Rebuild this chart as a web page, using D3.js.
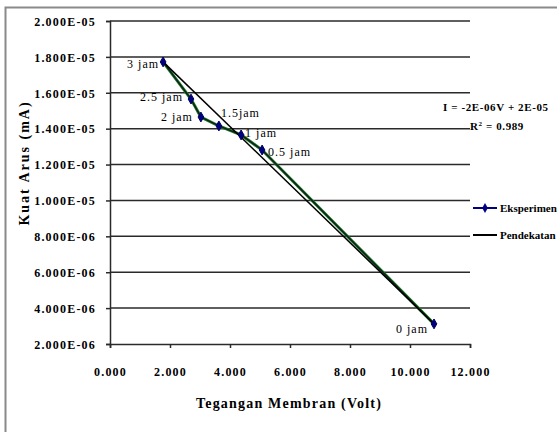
<!DOCTYPE html>
<html>
<head>
<meta charset="utf-8">
<script src="https://cdn.jsdelivr.net/npm/d3@7/dist/d3.min.js"></script>
<style>
  body { margin: 0; background: #fff; }
  svg { display: block; }
  svg text { font-family: "Liberation Serif", "Tinos", "DejaVu Serif", serif !important; fill: #000; }
</style>
</head>
<body>
<div class="panel"></div>
<script>
// Data

const jamLabels = ["3 jam", "2.5 jam", "2 jam", "1.5jam", "1 jam", "0.5 jam", "0 jam"];
const tegangan = [1.77, 2.70, 3.03, 3.63, 4.37, 5.07, 10.80];
const arus = [1.772e-5, 1.565e-5, 1.465e-5, 1.415e-5, 1.365e-5, 1.281e-5, 3.12e-6];

const pendekatanV = [1.77, 10.80];
const pendekatanI = [1.772e-5, 3.12e-6];

const xTicks = [0, 2, 4, 6, 8, 10, 12];
const yTicks = [2e-6, 4e-6, 6e-6, 8e-6, 1e-5, 1.2e-5, 1.4e-5, 1.6e-5, 1.8e-5, 2e-5];

const seriesNames = ["Eksperimen", "Pendekatan"];
const equationText = "I = -2E-06V + 2E-05";
const r2Text = "0.989";

// label placement: [dx, dy, anchor]
const labelPlace = [
    [-4, 2, "end"], [-8, -2, "end"], [-8, 0, "end"],
    [2, -13, "start"], [4, -2, "start"], [6, 2, "start"], [-6, 5, "end"]
];

// Render chart

const params = { width: 557, height: 432 };

const svg = d3.select(".panel").append("svg")
    .attr("width", params.width)
    .attr("height", params.height)
    .attr("viewBox", [0, 0, params.width, params.height]);

svg.append("rect")
    .attr("x", 5.5).attr("y", 7.5)
    .attr("width", 600).attr("height", 500)
    .attr("fill", "#fff")
    .attr("stroke", "#8a8a8a")
    .attr("stroke-width", 2);

const x = d3.scaleLinear().domain([0, 12]).range([110, 470]);
const y = d3.scaleLinear().domain([2e-6, 2e-5]).range([344, 21]);

const fmtE = d => {
    const [m, e] = d.toExponential(3).split("e");
    const n = +e;
    return m + "E" + (n < 0 ? "-" : "+") + String(Math.abs(n)).padStart(2, "0");
};

// gridlines
svg.append("g")
    .selectAll("line")
    .data(yTicks.slice(1))
    .enter().append("line")
    .attr("x1", x(0)).attr("x2", x(12))
    .attr("y1", d => y(d)).attr("y2", d => y(d))
    .attr("stroke", "#2a2a2a")
    .attr("stroke-width", 1.5);

// axes
const yAxis = svg.append("g")
    .attr("transform", `translate(${x(0)},0)`)
    .call(d3.axisLeft(y).tickValues(yTicks).tickFormat(fmtE).tickSize(4).tickPadding(10));

const xAxis = svg.append("g")
    .attr("transform", `translate(0,${y(2e-6)})`)
    .call(d3.axisBottom(x).tickValues(xTicks).tickFormat(d3.format(".3f")).tickSize(4).tickPadding(19));

[yAxis, xAxis].forEach(g => {
    g.attr("font-family", null);
    g.select(".domain").attr("stroke", "#2a2a2a").attr("stroke-width", 1.5);
    g.selectAll(".tick line").attr("stroke", "#2a2a2a").attr("stroke-width", 1.5);
    g.selectAll("text")
        .attr("font-size", 12)
        .attr("font-weight", "bold")
        .attr("letter-spacing", 1.2);
});
yAxis.selectAll("text").attr("dy", "0.36em");

// axis titles
svg.append("text")
    .attr("x", 289).attr("y", 408)
    .attr("text-anchor", "middle")
    .attr("font-size", 14).attr("font-weight", "bold")
    .attr("letter-spacing", 1.2)
    .text("Tegangan Membran (Volt)");

svg.append("text")
    .attr("transform", "translate(29,163) rotate(-90)")
    .attr("text-anchor", "middle")
    .attr("font-size", 14).attr("font-weight", "bold")
    .attr("letter-spacing", 2)
    .text("Kuat Arus (mA)");

// series
const pts = tegangan.map((v, i) => [v, arus[i]]);
const line = d3.line().x(d => x(d[0])).y(d => y(d[1]));

// experiment line: dark stroke with green edge, as in the picture
svg.append("path")
    .datum(pts)
    .attr("fill", "none")
    .attr("stroke", "#1f7a1f")
    .attr("stroke-width", 3)
    .attr("d", line);

svg.append("path")
    .datum(pts)
    .attr("fill", "none")
    .attr("stroke", "#0c1f24")
    .attr("stroke-width", 1.4)
    .attr("d", line);

svg.append("path")
    .datum(pendekatanV.map((v, i) => [v, pendekatanI[i]]))
    .attr("fill", "none")
    .attr("stroke", "#000")
    .attr("stroke-width", 1.5)
    .attr("d", line);

const diamond = d3.symbol().type(d3.symbolDiamond).size(28);

svg.append("g")
    .selectAll("path")
    .data(pts)
    .enter().append("path")
    .attr("transform", d => `translate(${x(d[0])},${y(d[1])})`)
    .attr("d", diamond)
    .attr("fill", "#000080")
    .attr("stroke", "#000060")
    .attr("stroke-width", 1);

// data labels
svg.append("g")
    .selectAll("text")
    .data(pts)
    .enter().append("text")
    .attr("x", (d, i) => x(d[0]) + labelPlace[i][0])
    .attr("y", (d, i) => y(d[1]) + labelPlace[i][1])
    .attr("dy", "0.35em")
    .attr("text-anchor", (d, i) => labelPlace[i][2])
    .attr("font-size", 12)
    .attr("letter-spacing", 1)
    .text((d, i) => jamLabels[i]);

// trendline equation
svg.append("text")
    .attr("x", 443).attr("y", 111)
    .attr("font-size", 11).attr("font-weight", "bold")
    .attr("letter-spacing", 0.6)
    .text(equationText);

const r2 = svg.append("text")
    .attr("x", 470).attr("y", 130)
    .attr("font-size", 11).attr("font-weight", "bold")
    .attr("letter-spacing", 0.6);
r2.append("tspan").text("R");
r2.append("tspan").attr("dy", -4).attr("font-size", 7).text("2");
r2.append("tspan").attr("dy", 4).text(" = " + r2Text);

// legend
const legend = svg.append("g");
seriesNames.forEach((name, i) => {
    const ly = 208 + i * 27;
    legend.append("line")
        .attr("x1", 473).attr("x2", 497)
        .attr("y1", ly).attr("y2", ly)
        .attr("stroke", i === 0 ? "#000080" : "#000")
        .attr("stroke-width", 2);
    if (i === 0) {
        legend.append("path")
            .attr("transform", `translate(485,${ly})`)
            .attr("d", diamond)
            .attr("fill", "#000080");
    }
    legend.append("text")
        .attr("x", 500).attr("y", ly)
        .attr("dy", "0.35em")
        .attr("font-size", 11).attr("font-weight", "bold")
        .text(name);
});
</script>
</body>
</html>
